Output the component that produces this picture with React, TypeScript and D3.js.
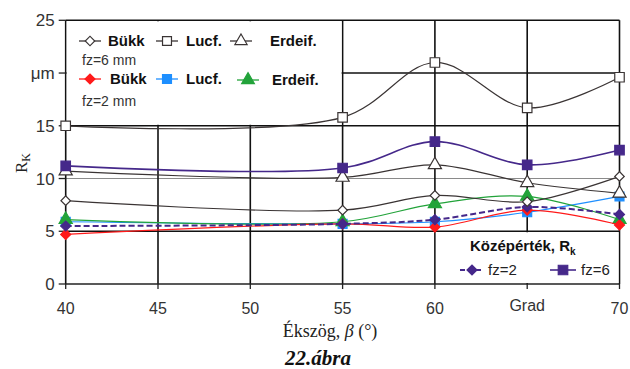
import React from 'react';
import * as d3 from 'd3';

// angles (x) and measured Rk values (µm)
const angles = [40, 55, 60, 65, 70];
const bukk6 = [7.9, 7.0, 8.4, 7.8, 10.2];
const lucf6 = [15.0, 15.8, 21.0, 16.7, 19.6];
const erdeif6 = [10.7, 10.1, 11.3, 9.6, 8.6];
const bukk2 = [4.7, 5.7, 5.4, 7.0, 5.6];
const lucf2 = [5.9, 5.7, 5.9, 6.8, 8.3];
const erdeif2 = [6.1, 5.9, 7.6, 8.3, 6.1];
const mean2 = [5.5, 5.7, 6.1, 7.3, 6.6];
const mean6 = [11.2, 11.0, 13.5, 11.3, 12.7];

const xTicks = [40, 45, 50, 55, 60, 65, 70];
const xTickLabels = ['40', '45', '50', '55', '60', 'Grad', '70'];
const yTicks = [0, 5, 10, 15, 20, 25];
const yTickLabels = ['0', '5', '10', '15', 'μm', '25'];

const W = 630, H = 369;
const SANS = '"Liberation Sans", Arial, sans-serif';
const SERIF = '"Liberation Serif", "Times New Roman", serif';

const x = d3.scaleLinear().domain([40, 70]).range([65.7, 619.5]);
const y = d3.scaleLinear().domain([0, 25]).range([284, 20.3]);

const GRAY = '#3a3434';
const PURPLE = '#45288a';

// 'diamond' = square turned by 45°, as in the spreadsheet chart
const series = [
  { vals: lucf2, color: '#1e8fff', sym: 'square', size: 80, fill: '#1e8fff', dash: '' },
  { vals: erdeif2, color: '#22a33a', sym: 'triangle', size: 75, fill: '#22a33a', dash: '' },
  { vals: bukk2, color: '#ff1a1a', sym: 'diamond', size: 50, fill: '#ff1a1a', dash: '' },
  { vals: mean2, color: PURPLE, sym: 'diamond', size: 50, fill: PURPLE, dash: '6,3', width: 2 },
  { vals: bukk6, color: GRAY, sym: 'diamond', size: 45, fill: '#fff', dash: '' },
  { vals: erdeif6, color: GRAY, sym: 'triangle', size: 75, fill: '#fff', dash: '' },
  { vals: lucf6, color: GRAY, sym: 'square', size: 90, fill: '#fff', dash: '' },
  { vals: mean6, color: PURPLE, sym: 'square', size: 90, fill: PURPLE, dash: '', width: 1.6 },
];

const line = d3.line<[number, number]>()
  .x(d => x(d[0]))
  .y(d => y(d[1]))
  .curve(d3.curveCatmullRom.alpha(0.5));

const Marker = ({ cx, cy, sym, size, color, fill }: any) => {
  const type = sym === 'triangle' ? d3.symbolTriangle : d3.symbolSquare;
  const rot = sym === 'diamond' ? ' rotate(45)' : '';
  return (
    <path
      d={d3.symbol().type(type).size(size)() || ''}
      transform={`translate(${cx},${cy})${rot}`}
      fill={fill}
      stroke={color}
      strokeWidth={1.2}
    />
  );
};

const LegendItem = ({ x0, yy, color, sym, size, fill, dash, label, tx }: any) => (
  <g>
    <line x1={x0} x2={x0 + 22} y1={yy} y2={yy} stroke={color} strokeWidth={1.3} strokeDasharray={dash} />
    <Marker cx={x0 + 11} cy={yy} sym={sym} size={size} color={color} fill={fill} />
    <text x={tx} y={yy + 5} fontFamily={SANS} fontWeight="bold" fontSize={15} fill="#111">{label}</text>
  </g>
);

export default function App() {
  return (
    <svg width={W} height={H} style={{ position: 'absolute', left: 0, top: 0, background: '#fff' }}>
      {/* gray 10 gridline */}
      <line x1={x(40)} x2={x(70)} y1={y(10)} y2={y(10)} stroke="#8a8a8a" strokeWidth={1.2} />
      {/* black horizontal gridlines */}
      {[5, 15, 20, 25].map(v => (
        <line key={v} x1={x(40)} x2={x(70)} y1={y(v)} y2={y(v)} stroke="#111" strokeWidth={1.6} />
      ))}
      {/* vertical gridlines */}
      {xTicks.map(v => (
        <line key={v} x1={x(v)} x2={x(v)} y1={y(25)} y2={y(0)} stroke="#111" strokeWidth={1.6} />
      ))}
      {/* axes */}
      <line x1={x(40)} x2={x(70)} y1={y(0)} y2={y(0)} stroke="#222" strokeWidth={1.6} />
      {yTicks.map(v => (
        <line key={v} x1={x(40) - 7} x2={x(40)} y1={y(v)} y2={y(v)} stroke="#222" strokeWidth={1.3} />
      ))}
      {xTicks.map(v => (
        <line key={v} x1={x(v)} x2={x(v)} y1={y(0)} y2={y(0) + 5} stroke="#222" strokeWidth={1.3} />
      ))}
      {yTicks.map((v, i) => (
        <text key={v} x={x(40) - 11} y={y(v) + 6} textAnchor="end" fontFamily={SANS} fontSize={17} fill="#333">
          {yTickLabels[i]}
        </text>
      ))}
      {xTicks.map((v, i) => (
        <text key={v} x={x(v)} y={xTickLabels[i] === 'Grad' ? 311 : 314} textAnchor="middle" fontFamily={SANS} fontSize={16} fill="#333">
          {xTickLabels[i]}
        </text>
      ))}

      {/* legend backgrounds */}
      <rect x={x(40) + 1} y={y(25) + 1} width={x(55) - x(40) - 2} height={y(15) - y(25) - 2} fill="#fff" />
      <rect x={x(60) + 1} y={y(5) + 1} width={x(70) - x(60) - 2} height={y(0) - y(5) - 2} fill="#fff" />

      {/* data */}
      {series.map((s, i) => (
        <g key={i}>
          <path
            d={line(angles.map((a, j) => [a, s.vals[j]] as [number, number])) || ''}
            fill="none"
            stroke={s.color}
            strokeWidth={s.width || 1.2}
            strokeDasharray={s.dash}
          />
          {angles.map((a, j) => (
            <Marker key={j} cx={x(a)} cy={y(s.vals[j])} sym={s.sym} size={s.size} color={s.color} fill={s.fill} />
          ))}
        </g>
      ))}

      {/* top-left legend */}
      <LegendItem x0={79} yy={41} color={GRAY} sym="diamond" size={45} fill="#fff" label="Bükk" tx={108} />
      <LegendItem x0={156} yy={41} color={GRAY} sym="square" size={80} fill="#fff" label="Lucf." tx={186} />
      <LegendItem x0={230} yy={41} color={GRAY} sym="triangle" size={65} fill="#fff" label="Erdeif." tx={270} />
      <text x={82} y={65} fontFamily={SANS} fontSize={14} fill="#333">fz=6 mm</text>
      <LegendItem x0={79} yy={79} color="#ff1a1a" sym="diamond" size={50} fill="#ff1a1a" label="Bükk" tx={110} />
      <LegendItem x0={156} yy={79} color="#1e8fff" sym="square" size={80} fill="#1e8fff" label="Lucf." tx={186} />
      <LegendItem x0={237} yy={80} color="#22a33a" sym="triangle" size={70} fill="#22a33a" label="Erdeif." tx={272} />
      <text x={82} y={106} fontFamily={SANS} fontSize={14} fill="#333">fz=2 mm</text>

      {/* bottom-right legend */}
      <text x={470} y={251} fontFamily={SANS} fontWeight="bold" fontSize={15} fill="#111">
        Középérték, R<tspan fontSize={10} dy={4}>k</tspan>
      </text>
      <line x1={460} x2={483} y1={270} y2={270} stroke={PURPLE} strokeWidth={2} strokeDasharray="5,3" />
      <Marker cx={472} cy={270} sym="diamond" size={50} color={PURPLE} fill={PURPLE} />
      <text x={488} y={275} fontFamily={SANS} fontSize={15} fill="#222">fz=2</text>
      <line x1={550} x2={576} y1={270} y2={270} stroke={PURPLE} strokeWidth={1.6} />
      <Marker cx={563} cy={270} sym="square" size={90} color={PURPLE} fill={PURPLE} />
      <text x={581} y={275} fontFamily={SANS} fontSize={15} fill="#222">fz=6</text>

      {/* axis titles */}
      <text transform="translate(27,163) rotate(-90)" textAnchor="middle" fontFamily={SERIF} fontSize={17} fill="#222">
        R<tspan fontSize={12} dy={3}>K</tspan>
      </text>
      <text x={330} y={337} textAnchor="middle" fontFamily={SERIF} fontSize={18} fill="#222">
        Ékszög, <tspan fontStyle="italic">β</tspan> (°)
      </text>
      <text x={318} y={365} textAnchor="middle" fontFamily={SERIF} fontSize={21} fontWeight="bold" fontStyle="italic" fill="#111">
        22.ábra
      </text>
    </svg>
  );
}
